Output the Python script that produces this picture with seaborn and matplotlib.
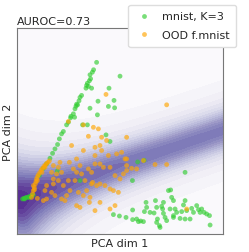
import matplotlib
matplotlib.use("Agg")
import matplotlib.pyplot as plt
import numpy as np
import pandas as pd
import seaborn as sns

# ---- data (PCA units) ----
id_x = [3.98, 3.83, 3.77, 3.65, 3.68, 3.62, 3.52, 3.48, 3.45, 3.57, 3.73, 3.23, 3.15, 3.10,
        2.98, 2.95, 3.03, 2.90, 2.82, 2.70, 2.68, 2.88, 2.57, 2.48, 2.32, 2.23, 2.12, 2.03,
        1.90, 1.78, 1.65, 1.48, 1.32, 1.12,
        5.15, 4.60, 4.05, 4.85, 4.57, 4.88, 3.65, 4.02, 3.28, 3.52, 4.45, 4.65, 2.02, 3.15,
        6.03, 6.35, 5.77, 8.40,
        0.28, 0.35, 0.42, 0.48, 0.57, 0.65, 0.73, 0.82, 0.62, 0.38,
        4.82, 5.12, 5.45, 5.78, 5.98, 6.18, 6.32, 6.37, 6.45, 6.48, 6.65, 6.85, 6.92, 6.98,
        7.02, 7.12, 7.15, 7.23, 7.28, 7.32, 7.40, 7.48, 7.57, 7.68, 7.73, 7.82, 7.65, 7.90,
        7.98, 7.82, 8.15, 8.23, 8.32, 8.40, 8.48, 8.65, 8.73, 8.82, 8.98, 9.07, 9.15, 9.23,
        9.35, 9.48, 9.65, 9.62, 5.78, 6.07, 6.98, 7.32, 7.82, 8.40]
id_y = [8.57, 8.20, 8.08, 7.95, 7.75, 7.65, 7.53, 7.42, 7.28, 7.37, 7.28, 6.92, 6.82, 6.65,
        6.48, 6.38, 6.45, 6.25, 6.00, 5.88, 5.80, 5.83, 5.58, 5.45, 5.12, 5.00, 4.75, 4.47,
        4.25, 4.03, 3.78, 3.50, 3.28, 2.92,
        7.88, 7.28, 6.63, 6.67, 6.37, 6.30, 6.28, 5.95, 5.45, 5.45, 4.95, 4.62, 3.15, 2.67,
        3.60, 3.68, 2.67, 3.08,
        1.75, 1.78, 1.80, 1.83, 1.85, 1.88, 1.92, 1.95, 1.82, 1.75,
        0.97, 0.90, 0.83, 1.20, 0.75, 0.65, 0.62, 1.12, 1.58, 1.33, 1.08, 1.05, 1.67, 1.33,
        0.75, 0.42, 0.33, 1.38, 1.25, 1.03, 0.83, 0.67, 2.17, 2.20, 1.83, 1.67, 1.25, 1.25,
        1.08, 0.92, 0.78, 1.12, 1.45, 1.67, 1.17, 0.75, 1.28, 1.08, 1.42, 1.22, 1.08, 1.25,
        1.08, 1.00, 0.45, 0.92, 0.72, 0.62, 0.58, 1.58, 0.83, 0.75]

ood_x = [0.73, 0.78, 0.82, 0.87, 0.92, 0.95, 0.98, 1.03, 1.08, 1.15, 1.22, 1.28, 1.35, 1.42,
         1.48, 1.55, 1.62, 0.88, 1.02, 0.82, 1.25, 1.40,
         7.48, 4.45, 2.57, 3.32, 3.82, 4.07, 3.57, 4.23, 4.48, 5.48, 2.73, 3.90, 4.15, 4.23,
         4.57, 3.90, 4.98, 5.23, 5.40, 5.48, 5.98, 6.32, 6.90, 7.48, 3.32, 2.98, 2.62, 2.15,
         1.82, 1.73, 1.98, 2.23, 2.82, 3.15, 3.57, 3.73, 3.90, 4.15, 4.32, 4.65, 4.90, 5.15,
         5.32, 5.48, 5.73, 3.23, 2.90, 2.57, 2.32, 2.07, 1.82, 1.48, 1.40, 1.73, 1.32, 1.02,
         1.48, 1.90, 2.23, 2.48, 3.40, 3.73, 3.98, 4.15, 4.40, 4.65, 4.82, 5.07, 3.07, 3.48,
         3.32, 3.65, 4.15, 4.90, 2.98, 3.15, 3.62, 3.90, 4.65, 8.48, 2.40, 2.65, 1.82, 2.07,
         2.98, 3.78, 5.48]
ood_y = [1.83, 2.00, 2.17, 2.33, 2.50, 2.62, 2.75, 2.87, 2.97, 3.08, 3.20, 3.28, 3.38, 3.45,
         3.52, 3.58, 3.65, 2.22, 2.67, 2.42, 3.08, 3.33,
         6.45, 6.97, 5.62, 5.45, 5.33, 5.25, 4.88, 4.83, 4.67, 4.83, 4.42, 4.33, 4.42, 4.17,
         3.92, 3.92, 4.00, 4.08, 3.75, 3.42, 3.25, 3.67, 3.47, 3.47, 4.17, 3.75, 3.58, 3.58,
         3.42, 3.08, 3.00, 3.08, 3.25, 3.42, 3.25, 3.08, 3.50, 3.50, 3.33, 3.33, 2.92, 2.75,
         3.00, 3.17, 3.28, 3.00, 2.67, 2.67, 2.42, 2.67, 2.50, 2.42, 2.17, 2.08, 1.67, 1.78,
         1.75, 1.92, 1.75, 1.92, 2.67, 2.50, 2.42, 2.50, 2.42, 2.25, 2.17, 2.08, 2.08, 2.17,
         1.92, 1.83, 1.58, 1.42, 1.42, 1.33, 1.58, 1.17, 1.25, 1.25, 1.67, 2.17, 2.75, 3.33,
         3.08, 2.58, 3.75]

labels = ["mnist, K=3", "OOD f.mnist"]
auroc = 0.73

# background uncertainty band (direction and origin)
band_origin = (0.15, 1.75)
band_dir = (0.948, 0.319)

xlim = (0, 10.3)
ylim = (0, 10.28)

sns.set_style("white")
plt.rcParams["font.family"] = ["DejaVu Sans"]

fig = plt.figure(figsize=(2.49, 2.53), dpi=100)
ax = fig.add_axes([0.068, 0.071, 0.828, 0.814])

gx, gy = np.meshgrid(np.linspace(*xlim, 300), np.linspace(*ylim, 300))
dx, dy = gx - band_origin[0], gy - band_origin[1]
u = dx * band_dir[0] + dy * band_dir[1]
v = -dx * band_dir[1] + dy * band_dir[0]
s = 0.6 + 0.7 * np.exp(-u / 2.0)
amp = np.where(u >= 0, 0.72 + 0.28 * np.exp(-u / 2.5), np.exp(-u ** 2 / 2.0))
z = amp * (0.65 * np.exp(-v ** 2 / (2 * s ** 2)) + 0.35 * np.exp(-v ** 2 / (2 * (2.2 * s) ** 2)))
ax.contourf(gx, gy, z, levels=np.linspace(0, 1.0, 21), cmap="Purples",
            vmin=0, vmax=1.15, zorder=0)

df = pd.DataFrame({
    "x": id_x + ood_x,
    "y": id_y + ood_y,
    "set": [labels[0]] * len(id_x) + [labels[1]] * len(ood_x),
})
sns.scatterplot(data=df, x="x", y="y", hue="set",
                palette={labels[0]: "limegreen", labels[1]: "orange"},
                s=12, alpha=0.65, linewidth=0, ax=ax, zorder=2)

ax.set_xlim(*xlim)
ax.set_ylim(*ylim)
ax.set_xticks([])
ax.set_yticks([])
ax.set_xlabel("PCA dim 1", fontsize=8, labelpad=3)
ax.set_ylabel("PCA dim 2", fontsize=8, labelpad=3)
ax.set_title(f"AUROC={auroc:.2f}", loc="left", fontsize=8, pad=3)
for sp in ax.spines.values():
    sp.set_color("#777777")
    sp.set_linewidth(0.8)

handles, labs = ax.get_legend_handles_labels()
ax.legend(handles, labs, loc="upper right", bbox_to_anchor=(1.09, 1.14),
          fontsize=8, frameon=True, framealpha=1.0, edgecolor="#dddddd",
          handlelength=1.6, handletextpad=0.8, borderpad=0.6, labelspacing=0.8)

fig.savefig("out.png", dpi=100)
